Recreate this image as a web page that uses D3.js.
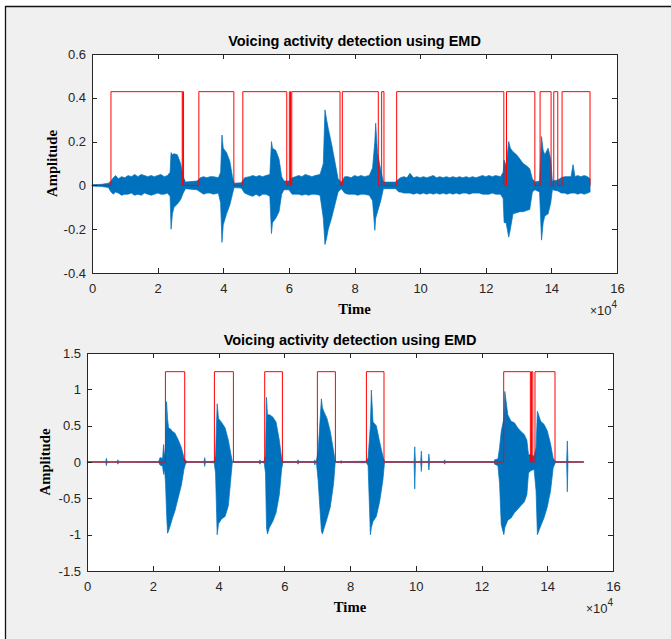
<!DOCTYPE html>
<html><head><meta charset="utf-8">
<script src="https://cdn.jsdelivr.net/npm/d3@7"></script>
<style>body{margin:0;background:#fff}svg{display:block}</style>
</head><body>
<svg id="chart" width="671" height="639"></svg>
<script>
// ---------- data (x in units of 1e4 samples) ----------
const xTicks = [0, 2, 4, 6, 8, 10, 12, 14, 16];
const topYTicks = [-0.4, -0.2, 0, 0.2, 0.4, 0.6];
const botYTicks = [-1.5, -1, -0.5, 0, 0.5, 1, 1.5];

// waveform envelope: [time, upper, lower]
const topEnvelope = [
 [0,.003,-.003],[0.3,.005,-.005],[0.5,.01,-.01],[0.58,.02,-.03],[0.65,.035,-.04],[0.72,.045,-.03],[0.8,.03,-.035],[0.9,.04,-.045],
 [1.0,.035,-.04],[1.1,.045,-.04],[1.2,.04,-.035],[1.3,.05,-.045],[1.4,.04,-.04],[1.5,.05,-.045],[1.6,.045,-.035],[1.7,.04,-.04],
 [1.8,.045,-.045],[1.9,.04,-.04],[2.0,.045,-.035],[2.1,.05,-.04],[2.2,.04,-.04],[2.3,.045,-.035],[2.38,.06,-.05],[2.41,.15,-.2],
 [2.45,.14,-.13],[2.5,.145,-.1],[2.6,.14,-.085],[2.7,.1,-.065],[2.78,.04,-.035],[2.85,.015,-.015],[3.2,.02,-.02],[3.3,.035,-.03],
 [3.4,.04,-.04],[3.5,.035,-.035],[3.6,.04,-.035],[3.7,.04,-.04],[3.85,.035,-.035],[3.92,.06,-.08],[3.96,.23,-.26],[4.0,.17,-.18],
 [4.1,.15,-.13],[4.2,.11,-.09],[4.28,.04,-.04],[4.33,.01,-.01],[4.55,.012,-.012],[4.65,.035,-.035],[4.8,.04,-.045],[4.9,.045,-.05],
 [5.0,.04,-.04],[5.1,.045,-.05],[5.2,.04,-.04],[5.3,.045,-.04],[5.42,.05,-.05],[5.47,.2,-.22],[5.5,.17,-.17],[5.6,.16,-.15],
 [5.7,.12,-.12],[5.78,.04,-.04],[5.85,.02,-.02],[6.0,.02,-.02],[6.1,.035,-.04],[6.2,.04,-.04],[6.3,.045,-.04],[6.4,.04,-.045],
 [6.5,.05,-.04],[6.6,.045,-.045],[6.7,.04,-.04],[6.8,.045,-.04],[6.95,.05,-.045],[7.05,.1,-.15],[7.1,.345,-.27],[7.15,.3,-.24],
 [7.2,.26,-.2],[7.3,.19,-.15],[7.4,.11,-.09],[7.5,.03,-.03],[7.6,.015,-.015],[7.7,.04,-.035],[7.8,.04,-.04],[7.9,.035,-.04],
 [8.0,.045,-.04],[8.1,.04,-.045],[8.2,.045,-.04],[8.3,.04,-.04],[8.45,.045,-.045],[8.55,.08,-.07],[8.62,.2,-.205],[8.645,.284,-.15],
 [8.7,.15,-.121],[8.8,.07,-.07],[8.88,.015,-.015],[9.25,.015,-.015],[9.35,.03,-.03],[9.4,.035,-.03],[9.5,.04,-.035],[9.6,.035,-.035],
 [9.69,.055,-.035],[9.8,.035,-.04],[9.9,.04,-.035],[10.0,.035,-.04],[10.1,.04,-.035],[10.2,.035,-.04],[10.3,.04,-.035],[10.4,.045,-.04],
 [10.5,.035,-.035],[10.6,.04,-.04],[10.7,.035,-.035],[10.8,.04,-.04],[10.9,.035,-.035],[11.0,.04,-.04],[11.1,.035,-.035],[11.2,.04,-.04],
 [11.3,.035,-.035],[11.4,.04,-.035],[11.5,.035,-.04],[11.6,.04,-.035],[11.7,.035,-.035],[11.8,.04,-.035],[11.9,.045,-.04],[12.0,.04,-.04],
 [12.1,.045,-.04],[12.2,.04,-.035],[12.3,.045,-.04],[12.45,.04,-.04],[12.53,.06,-.06],[12.56,.115,-.17],[12.62,.09,-.17],[12.7,.2,-.236],
 [12.75,.17,-.2],[12.83,.154,-.13],[12.94,.14,-.125],[13.04,.12,-.12],[13.14,.1,-.12],[13.24,.09,-.115],[13.34,.076,-.11],[13.42,.03,-.03],
 [13.5,.015,-.02],[13.64,.02,-.03],[13.7,.223,-.25],[13.75,.16,-.17],[13.8,.14,-.14],[13.9,.17,-.13],[13.98,.12,-.08],[14.03,.02,-.02],
 [14.2,.025,-.025],[14.3,.035,-.035],[14.4,.04,-.035],[14.5,.04,-.04],[14.6,.04,-.035],[14.66,.095,-.035],[14.72,.04,-.035],[14.8,.045,-.04],
 [14.9,.04,-.035],[15.0,.045,-.04],[15.1,.04,-.035],[15.18,.03,-.03]
];

const botEnvelope = [
 [0,.005,-.005],[0.57,.005,-.005],[0.59,.05,-.05],[0.61,.005,-.005],[0.92,.005,-.005],[0.94,.03,-.03],[0.96,.005,-.005],
 [2.18,.006,-.006],[2.22,.06,-.04],[2.3,.05,-.06],[2.33,.24,-.17],[2.36,.08,-.1],[2.39,.15,-.3],[2.42,.83,-.7],[2.45,.6,-.98],
 [2.48,.47,-.95],[2.55,.45,-.85],[2.6,.42,-.77],[2.67,.4,-.68],[2.77,.31,-.5],[2.87,.2,-.32],[2.95,.06,-.1],[3.0,.02,-.02],[3.05,.006,-.006],
 [3.56,.006,-.006],[3.58,.06,-.06],[3.6,.006,-.006],
 [3.87,.01,-.01],[3.91,.1,-.15],[3.96,.8,-1.0],[4.0,.6,-.85],[4.1,.54,-.78],[4.2,.47,-.75],[4.3,.3,-.6],[4.38,.1,-.2],[4.42,.006,-.006],
 [5.24,.006,-.006],[5.26,.03,-.03],[5.28,.006,-.006],
 [5.39,.01,-.01],[5.43,.1,-.15],[5.46,.89,-.9],[5.49,.65,-.99],[5.55,.65,-.9],[5.65,.62,-.82],[5.75,.55,-.7],[5.85,.3,-.45],[5.92,.05,-.1],[5.96,.006,-.006],
 [6.4,.006,-.006],[6.42,.03,-.03],[6.44,.006,-.006],[6.91,.006,-.006],[6.93,.03,-.04],[6.95,.006,-.006],
 [6.98,.02,-.02],[7.03,.15,-.25],[7.13,.87,-.95],[7.16,.75,-.99],[7.2,.7,-.93],[7.3,.6,-.78],[7.4,.42,-.62],[7.5,.15,-.3],[7.55,.006,-.006],
 [7.71,.006,-.006],[7.73,.02,-.02],[7.75,.006,-.006],
 [8.5,.01,-.01],[8.55,.06,-.05],[8.62,.5,-1.0],[8.65,.99,-.9],[8.7,.55,-.82],[8.8,.5,-.75],[8.9,.28,-.55],[9.0,.08,-.25],[9.05,.006,-.006],
 [9.95,.006,-.006],[9.97,.21,-.37],[9.99,.006,-.006],[10.15,.006,-.006],[10.17,.15,-.13],[10.19,.006,-.006],
 [10.38,.006,-.006],[10.4,.11,-.11],[10.42,.006,-.006],[10.86,.006,-.006],[10.88,.03,-.03],[10.9,.006,-.006],
 [12.38,.006,-.006],[12.4,.03,-.03],[12.5,.04,-.05],[12.55,.2,-.3],[12.6,.42,-.86],[12.68,.6,-1.0],[12.71,.97,-.9],[12.8,.65,-.8],
 [12.9,.56,-.77],[13.0,.54,-.7],[13.1,.47,-.65],[13.2,.42,-.6],[13.3,.38,-.55],[13.38,.3,-.45],[13.43,.1,-.15],[13.5,.1,-.12],
 [13.6,.08,-.1],[13.66,.2,-.4],[13.7,.7,-1.0],[13.8,.56,-.88],[13.9,.52,-.77],[14.0,.43,-.62],[14.1,.25,-.4],[14.18,.05,-.08],[14.25,.006,-.006],
 [14.59,.006,-.006],[14.61,.29,-.41],[14.63,.006,-.006],[15.11,.005,-.005]
];

// voice activity decisions (segment starts / ends, x1e4 samples)
const topVadOn  = [0.578, 2.77, 3.257, 4.597, 6.015, 6.088, 7.629, 8.828, 9.285, 12.633, 13.656, 14.073, 14.326];
const topVadOff = [2.75, 2.79, 4.323, 5.936, 6.05, 7.559, 8.725, 8.898, 12.551, 13.497, 13.991, 14.195, 15.178];
const topVadLevel = 0.428, topVadEnd = 15.18;
const botVadOn  = [2.385, 3.875, 5.405, 7.008, 8.499, 12.675, 13.52, 13.627];
const botVadOff = [2.972, 4.453, 5.944, 7.556, 9.034, 13.487, 13.56, 14.236];
const botVadLevel = 1.243, botVadEnd = 15.11;

const titleText = "Voicing activity detection using EMD";

// ---------- drawing ----------
const svg = d3.select("#chart");
svg.append("rect").attr("x", 5).attr("y", 6).attr("width", 666).attr("height", 633).attr("fill", "#f0f0f0");
svg.append("line").attr("x1", 5.5).attr("x2", 5.5).attr("y1", 6).attr("y2", 639).attr("stroke", "#111").attr("stroke-width", 1.3);
svg.append("line").attr("x1", 5).attr("x2", 671).attr("y1", 6.5).attr("y2", 6.5).attr("stroke", "#111").attr("stroke-width", 1.3);

function panel(o) {
  const x = d3.scaleLinear().domain([0, 16]).range([o.L, o.R]);
  const y = d3.scaleLinear().domain(o.yDomain).range([o.B, o.T]);
  const g = svg.append("g");
  g.append("rect").attr("x", o.L).attr("y", o.T).attr("width", o.R - o.L).attr("height", o.B - o.T).attr("fill", "#fff");

  const area = d3.area().x(d => x(d[0])).y0(d => y(d[2])).y1(d => y(d[1]));
  g.append("path").datum(o.env).attr("d", area).attr("fill", "#0072BD").attr("stroke", "#0072BD").attr("stroke-width", 0.7).attr("stroke-linejoin", "round");

  const pts = [[0, 0]];
  o.on.forEach((s, k) => { pts.push([s, 0], [s, o.level], [o.off[k], o.level], [o.off[k], 0]); });
  pts.push([o.end, 0]);
  g.append("path").datum(pts).attr("d", d3.line().x(d => x(d[0])).y(d => y(d[1])))
    .attr("fill", "none").attr("stroke", "#ff0000").attr("stroke-width", 1);

  const font = "'Liberation Sans', Arial, Helvetica, sans-serif";
  const styleAxis = sel => {
    sel.selectAll("path.domain").attr("stroke", "#262626").attr("stroke-width", 1).attr("shape-rendering", "crispEdges");
    sel.selectAll(".tick line").attr("stroke", "#262626").attr("shape-rendering", "crispEdges");
    sel.selectAll(".tick text").attr("fill", "#262626").style("font-family", font).style("font-size", "13px");
  };
  const fmt = d => String(d).replace("\u2212", "-");
  g.append("g").attr("transform", `translate(0,${o.B})`)
    .call(d3.axisBottom(x).tickValues(xTicks).tickSizeInner(-5).tickSizeOuter(0).tickPadding(10.5).tickFormat(fmt)).call(styleAxis);
  g.append("g").attr("transform", `translate(0,${o.T})`)
    .call(d3.axisTop(x).tickValues(xTicks).tickSizeInner(-5).tickSizeOuter(0).tickFormat("")).call(styleAxis);
  g.append("g").attr("transform", `translate(${o.L},0)`)
    .call(d3.axisLeft(y).tickValues(o.yTicks).tickSizeInner(-5).tickSizeOuter(0).tickPadding(6).tickFormat(fmt)).call(styleAxis);
  g.append("g").attr("transform", `translate(${o.R},0)`)
    .call(d3.axisRight(y).tickValues(o.yTicks).tickSizeInner(-5).tickSizeOuter(0).tickFormat("")).call(styleAxis);

  g.append("text").attr("x", (o.L + o.R) / 2).attr("y", o.T - 7.6).attr("text-anchor", "middle")
    .style("font-family", font).style("font-size", "14.5px").style("font-weight", "bold").attr("fill", "#000").text(titleText);
  const serif = "'Liberation Serif', 'Times New Roman', Times, serif";
  g.append("text").attr("transform", `translate(${o.ylabX},${(o.T + o.B) / 2}) rotate(-90)`).attr("text-anchor", "middle")
    .style("font-family", serif).style("font-size", "14.7px").style("font-weight", "bold").attr("fill", "#000").text("Amplitude");
  g.append("text").attr("x", (o.L + o.R) / 2).attr("y", o.B + 41).attr("text-anchor", "middle")
    .style("font-family", serif).style("font-size", "14.7px").style("font-weight", "bold").attr("fill", "#000").text("Time");
  const ex = g.append("text").attr("x", o.R).attr("y", o.B + 42).attr("text-anchor", "end")
    .style("font-family", font).style("font-size", "13px").attr("fill", "#262626");
  ex.append("tspan").text("\u00d7").style("font-size", "12px");
  ex.append("tspan").text("10");
  ex.append("tspan").text("4").attr("dy", -7).style("font-size", "10px");
}

panel({L: 92, R: 617, T: 54, B: 273, yDomain: [-0.4, 0.6], yTicks: topYTicks,
  env: topEnvelope, on: topVadOn, off: topVadOff, level: topVadLevel, end: topVadEnd, ylabX: 57});
panel({L: 87, R: 613, T: 353, B: 571, yDomain: [-1.5, 1.5], yTicks: botYTicks,
  env: botEnvelope, on: botVadOn, off: botVadOff, level: botVadLevel, end: botVadEnd, ylabX: 49.5});
</script>
</body></html>
